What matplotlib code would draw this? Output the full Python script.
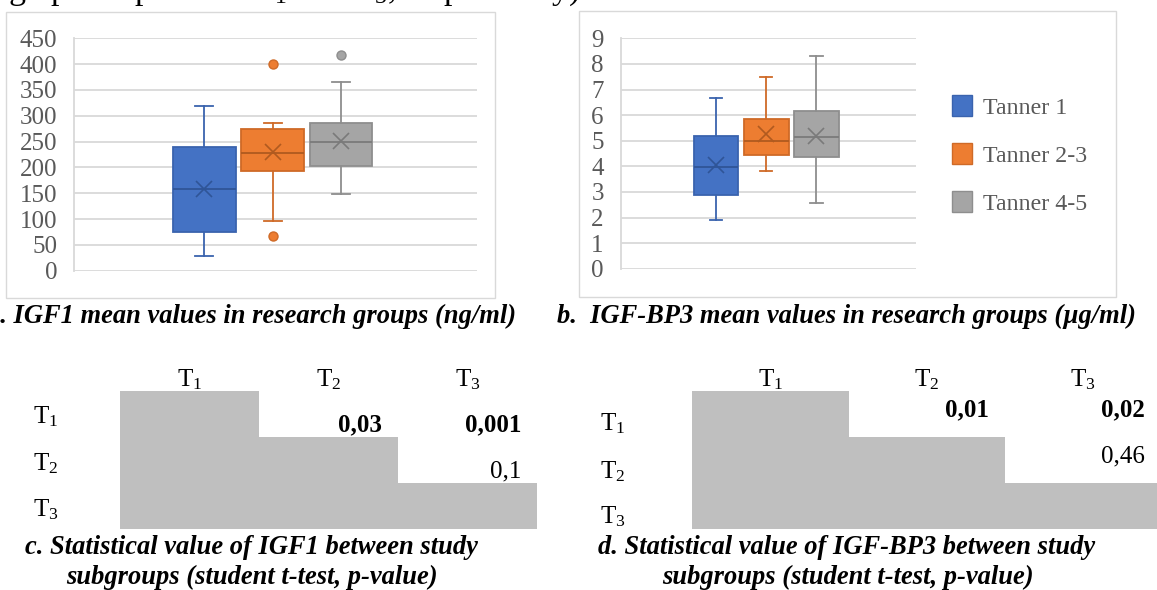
import matplotlib
matplotlib.use('Agg')
import matplotlib.pyplot as plt
from matplotlib.patches import Rectangle

plt.rcParams['font.family'] = ['Liberation Serif', 'DejaVu Serif']
plt.rcParams['mathtext.fontset'] = 'custom'
plt.rcParams['mathtext.rm'] = 'Liberation Serif'
plt.rcParams['mathtext.it'] = 'Liberation Serif:italic'
plt.rcParams['mathtext.bf'] = 'Liberation Serif:bold'

# ---------------- data ----------------
groups = ['Tanner 1', 'Tanner 2-3', 'Tanner 4-5']

igf1_q1 = [74, 193, 203]
igf1_med = [159, 228, 250]
igf1_q3 = [240, 275, 286]
igf1_lo = [29, 97, 148]
igf1_hi = [318, 286, 365]
igf1_mean = [158, 229, 251]
igf1_fliers = [[], [400, 68], [417]]
igf1_ticks = [0, 50, 100, 150, 200, 250, 300, 350, 400, 450]

bp3_q1 = [2.87, 4.45, 4.38]
bp3_med = [3.96, 4.99, 5.13]
bp3_q3 = [5.20, 5.85, 6.17]
bp3_lo = [1.89, 3.83, 2.55]
bp3_hi = [6.68, 7.48, 8.30]
bp3_mean = [4.05, 5.25, 5.18]
bp3_fliers = [[], [], []]
bp3_ticks = [0, 1, 2, 3, 4, 5, 6, 7, 8, 9]

tab_labels = ['T$_1$', 'T$_2$', 'T$_3$']
igf1_p = [['', '0,03', '0,001'], ['', '', '0,1'], ['', '', '']]
bp3_p = [['', '0,01', '0,02'], ['', '', '0,46'], ['', '', '']]

cap_a = 'a. IGF1 mean values in research groups (ng/ml)'
cap_b = 'b.  IGF-BP3 mean values in research groups (\u00b5g/ml)'
cap_c = ['c. Statistical value of IGF1 between study', 'subgroups (student t-test, p-value)']
cap_d = ['d. Statistical value of IGF-BP3 between study', 'subgroups (student t-test, p-value)']
top_text = 'g up compared to T$_1$ and T$_3$, respectively).'

# ---------------- styles ----------------
fill = ['#4472C4', '#ED7D31', '#A5A5A5']
edge = ['#3A63AE', '#CF6A27', '#8E8E8E']
dark = ['#2F5597', '#B05A1F', '#7A7A7A']
grid_c = '#D9D9D9'
txt_c = '#595959'
FS = 18
CFS = 19.1

W, H = 1157, 590
fig = plt.figure(figsize=(W / 100, H / 100), dpi=100)

bg = fig.add_axes([0, 0, 1, 1], zorder=0)
bg.set_xlim(0, W)
bg.set_ylim(H, 0)
bg.axis('off')


def ax_px(l, t, r, b):
    return fig.add_axes([l / W, 1 - b / H, (r - l) / W, (b - t) / H], zorder=2)


def boxchart(ax, q1, med, q3, lo, hi, mean, fliers, ticks, xlim, width, capw, pad):
    stats = []
    for i in range(len(q1)):
        stats.append(dict(q1=q1[i], med=med[i], q3=q3[i], whislo=lo[i], whishi=hi[i],
                          mean=mean[i], fliers=fliers[i], label=''))
    pos = list(range(1, len(q1) + 1))
    r = ax.bxp(stats, positions=pos, widths=width, capwidths=capw, patch_artist=True,
               showmeans=True, meanline=False, showfliers=True)
    for i in range(len(q1)):
        b = r['boxes'][i]
        b.set_facecolor(fill[i]); b.set_edgecolor(edge[i]); b.set_linewidth(1.3)
        r['medians'][i].set_color(dark[i]); r['medians'][i].set_linewidth(1.3)
        for k in (2 * i, 2 * i + 1):
            r['whiskers'][k].set_color(edge[i]); r['whiskers'][k].set_linewidth(1.3)
            r['caps'][k].set_color(edge[i]); r['caps'][k].set_linewidth(1.3)
        m = r['means'][i]
        m.set_marker('x'); m.set_markersize(11); m.set_markeredgecolor(dark[i])
        m.set_markeredgewidth(1.2)
        f = r['fliers'][i]
        f.set_marker('o'); f.set_markersize(6.5); f.set_markerfacecolor(fill[i])
        f.set_markeredgecolor(edge[i])
    ax.set_xlim(*xlim)
    ax.set_ylim(ticks[0], ticks[-1])
    ax.set_yticks(ticks)
    ax.set_yticklabels([str(t) for t in ticks], fontsize=FS, color=txt_c)
    ax.tick_params(axis='y', length=0, pad=pad)
    ax.set_xticks([])
    ax.yaxis.grid(True, color=grid_c, linewidth=1.3)
    ax.set_axisbelow(True)
    for s in ('top', 'right', 'bottom'):
        ax.spines[s].set_visible(False)
    ax.spines['left'].set_color(grid_c)
    ax.spines['left'].set_linewidth(1.3)
    ax.patch.set_alpha(0)


# chart frames
bg.add_patch(Rectangle((6.3, 11.7), 494.6 - 6.3, 298 - 11.7, fill=False, edgecolor=grid_c, lw=1.0))
bg.add_patch(Rectangle((578.5, 11.3), 1115.5 - 578.5, 297 - 11.3, fill=False, edgecolor=grid_c, lw=1.0))

axA = ax_px(74.4, 38.3, 477.2, 270.7)
boxchart(axA, igf1_q1, igf1_med, igf1_q3, igf1_lo, igf1_hi, igf1_mean, igf1_fliers,
         igf1_ticks, (-0.903, 4.994), 0.915, 0.264, 12.5)

axB = ax_px(620.5, 38.3, 915.7, 268.7)
boxchart(axB, bp3_q1, bp3_med, bp3_q3, bp3_lo, bp3_hi, bp3_mean, bp3_fliers,
         bp3_ticks, (-0.907, 4.979), 0.89, 0.245, 12)

# legend
for i, g in enumerate(groups):
    yc = 105.7 + i * 48
    bg.add_patch(Rectangle((951.7, yc - 10.3), 20.6, 20.6, facecolor=fill[i], edgecolor=edge[i], lw=1.0))
    bg.text(983.3, yc, g, fontsize=17.2, color=txt_c, va='center_baseline', ha='left')

# captions
cap_kw = dict(fontsize=CFS, fontweight='bold', fontstyle='italic', color='black', va='baseline')
bg.text(516, 323, cap_a, ha='right', **cap_kw)
bg.text(557, 323, cap_b, ha='left', **cap_kw)
bg.text(251, 554, cap_c[0], ha='center', **cap_kw)
bg.text(252, 584, cap_c[1], ha='center', **cap_kw)
bg.text(847, 554, cap_d[0], ha='center', **cap_kw)
bg.text(848, 584, cap_d[1], ha='center', **cap_kw)

# body text line cut off at the top edge
bg.text(8, -0.8, top_text, fontsize=24.5, color='black', va='baseline', ha='left')


def is_bold(s):
    return float(s.replace(',', '.')) < 0.05


def table(left, colw, top, rowh, vals, row_lab_x, row_base_off, val_top_mode):
    n = len(vals)
    for i in range(n):
        bg.add_patch(Rectangle((left, top + i * rowh), colw * (i + 1), rowh,
                               facecolor='#BFBFBF', edgecolor='none'))
    for j in range(n):
        bg.text(left + colw * (j + 0.5), 386.7, tab_labels[j], fontsize=FS, ha='center', va='baseline')
    for i in range(n):
        bg.text(row_lab_x, top + i * rowh + row_base_off[i], tab_labels[i], fontsize=FS, ha='left', va='baseline')
    for i in range(n):
        for j in range(n):
            s = vals[i][j]
            if not s:
                continue
            x = left + colw * (j + 1) - 16
            if val_top_mode:
                y = top + i * rowh + 25.6
            else:
                y = top + (i + 1) * rowh - 5.5
            bg.text(x, y, s, fontsize=FS, ha='right', va='baseline',
                    fontweight='bold' if is_bold(s) else 'normal')


table(120.2, 138.9, 391, 45.9, igf1_p, 33.3, [32.3, 33, 33.7], False)
table(692.3, 156.3, 391, 45.9, bp3_p, 600.2, [39, 41.3, 40.3], True)

fig.savefig('out.png', dpi=100)
